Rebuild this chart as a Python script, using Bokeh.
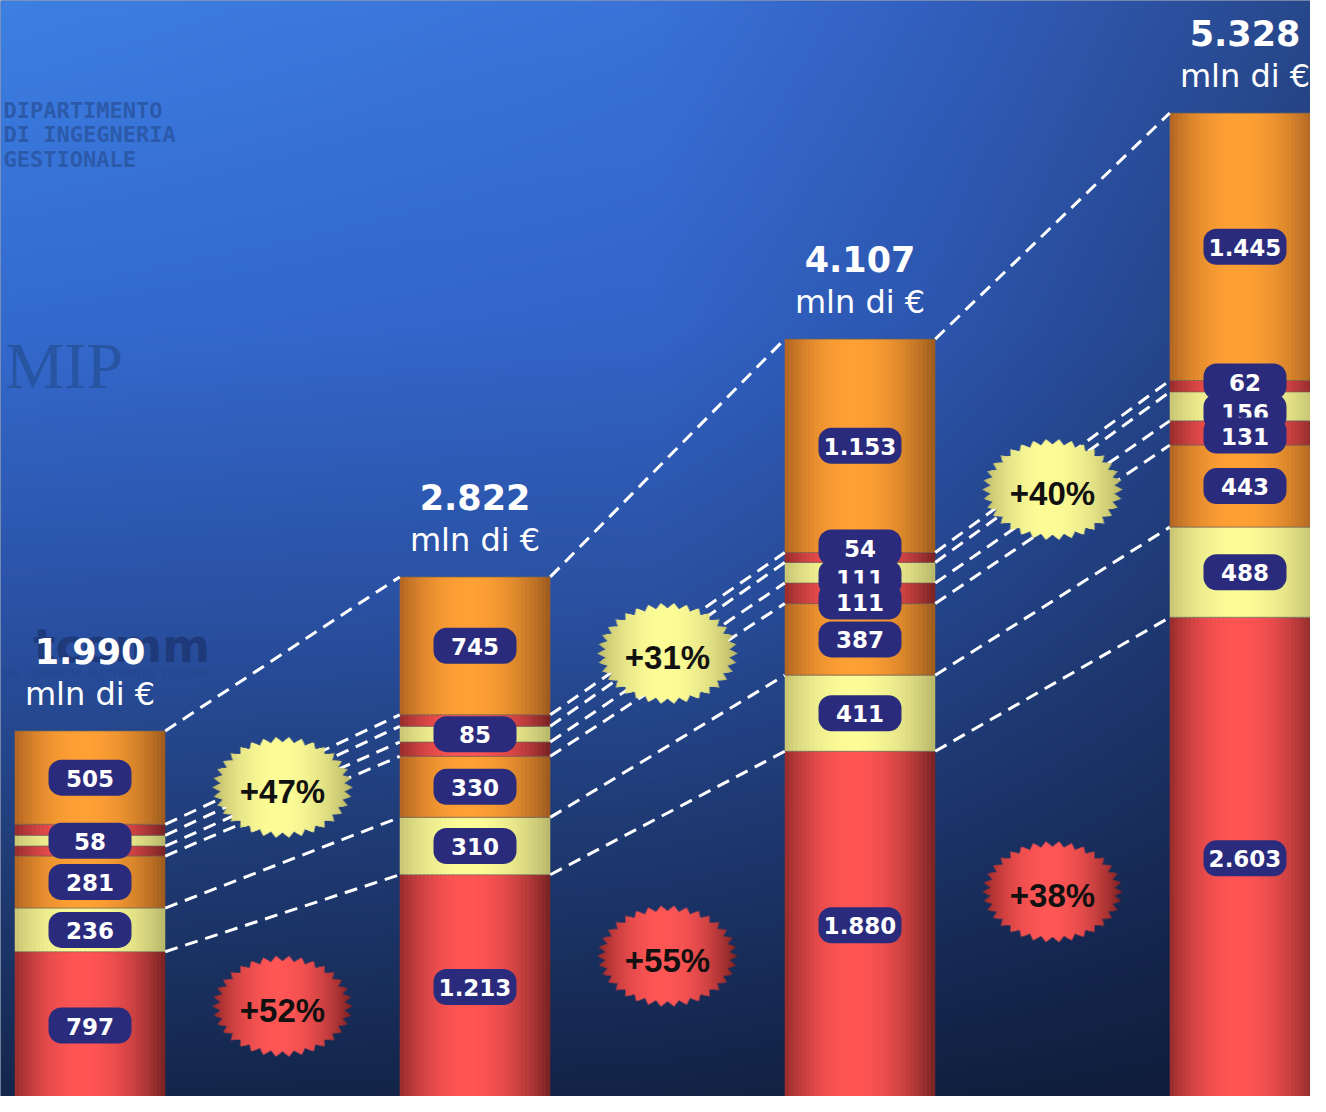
import numpy as np
from bokeh.plotting import figure
from bokeh.models import Range1d
from bokeh.core.properties import value
from bokeh.embed import file_html
from bokeh.resources import INLINE

# ---------------- data (mln di €) ----------------
bar_totals = [1990, 2822, 4107, 5328]
red_main = [797, 1213, 1880, 2603]
yellow_main = [236, 310, 411, 488]
orange_mid = [281, 330, 387, 443]
red_thin_low = [54, 77, 111, 131]
yellow_thin = [58, 85, 111, 156]
red_thin_high = [59, 62, 54, 62]
orange_top = [505, 745, 1153, 1445]
show_red_thin_label = [False, False, True, True]
growth_red = ["+52%", "+55%", "+38%"]
growth_rest = ["+47%", "+31%", "+40%"]
unit_label = "mln di €"

segments = [red_main, yellow_main, orange_mid, red_thin_low, yellow_thin, red_thin_high, orange_top]
seg_family = ["red", "yellow", "orange", "red", "yellow", "red", "orange"]

# ---------------- geometry / styles ----------------
W, H = 1310, 1096
PX_PER_BAR = 385.0
X0 = -89.5 / PX_PER_BAR
X1 = X0 + W / PX_PER_BAR
Y0, Y1 = 15.0, 5936.0
BAR_W = 0.391
PILL = "#2b2b7d"
FAMILY = {
    "red": ((150, 44, 44), (255, 84, 84), (118, 34, 34)),
    "orange": ((176, 100, 34), (255, 160, 52), (156, 90, 30)),
    "yellow": ((200, 196, 116), (252, 252, 152), (184, 182, 106)),
}
BURST_FAMILY = {
    "red": ((150, 40, 40), (255, 86, 86), (122, 32, 32)),
    "yellow": ((190, 186, 106), (253, 253, 152), (184, 180, 102)),
}

dxp = (X1 - X0) / W   # data per px
dyp = (Y1 - Y0) / H


def px2x(X):
    return X0 + X * dxp


def px2y(Y):
    return Y1 - Y * dyp


def hexc(rgb):
    return "#%02x%02x%02x" % tuple(int(round(c)) for c in rgb)


def shade_rgb(fams, fam, t, peak=0.45):
    el, c, er = [np.array(a, float) for a in fams[fam]]
    t = np.asarray(t, float)
    uu = np.where(t < peak, (peak - t) / peak, (t - peak) / (1 - peak))
    m = (1 - uu ** 2)[..., None]
    e = np.where((t < peak)[..., None], el, er)
    return e + (c - e) * m


p = figure(width=W, height=H, x_range=Range1d(X0, X1), y_range=Range1d(Y0, Y1),
           output_backend="svg", toolbar_location=None, min_border=0,
           x_axis_location=None, y_axis_location=None)
p.grid.visible = False
p.outline_line_color = None
p.background_fill_color = "#1c3468"
p.border_fill_color = "#1c3468"

# ---------------- background gradient ----------------
bw, bh = 655, 548
u_ctrl = [0.0, 0.5, 0.72, 1.0]
v_ctrl = [0.0, 0.3, 0.55, 0.75, 1.0]
ctrl = np.array([
    [(61, 127, 227), (58, 114, 216), (50, 95, 190), (40, 72, 140)],
    [(52, 106, 206), (50, 100, 200), (44, 85, 172), (34, 60, 120)],
    [(42, 82, 166), (42, 80, 160), (36, 68, 138), (28, 50, 100)],
    [(34, 64, 126), (31, 58, 116), (28, 52, 105), (22, 40, 80)],
    [(20, 38, 75), (19, 35, 70), (17, 31, 63), (15, 27, 56)],
], float)
uu = (np.arange(bw) + 0.5) / bw
vv = (np.arange(bh) + 0.5) / bh
rows = np.zeros((len(v_ctrl), bw, 3))
for a in range(len(v_ctrl)):
    for ch in range(3):
        rows[a, :, ch] = np.interp(uu, u_ctrl, ctrl[a, :, ch])
bg = np.zeros((bh, bw, 3))
for ch in range(3):
    for col in range(bw):
        bg[:, col, ch] = np.interp(vv, v_ctrl, rows[:, col, ch])
bg_rgba = np.zeros((bh, bw, 4), np.uint8)
bg_rgba[..., :3] = np.clip(bg, 0, 255).astype(np.uint8)
bg_rgba[..., 3] = 255
bg_img = np.ascontiguousarray(np.flipud(bg_rgba)).view(np.uint32).reshape(bh, bw)
p.image_rgba(image=[bg_img], x=X0, y=Y0, dw=X1 - X0, dh=Y1 - Y0)


# ---------------- watermark logos (text) ----------------
def mid_from_baseline(yb, size):
    return px2y(yb - 0.346 * size)


for txt, yb in [("DIPARTIMENTO", 118), ("DI INGEGNERIA", 142), ("GESTIONALE", 167)]:
    p.text(x=[px2x(3)], y=[mid_from_baseline(yb, 22)], text=[txt], text_color="#2c5aaa",
           text_font=value("DejaVu Sans Mono"), text_font_style="bold",
           text_font_size="22px", text_align="left", text_baseline="middle")
p.text(x=[px2x(5)], y=[mid_from_baseline(388, 66)], text=["MIP"], text_color="#2855a2",
       text_font=value("Liberation Serif"), text_font_size="66px",
       text_align="left", text_baseline="middle")
p.text(x=[px2x(33)], y=[mid_from_baseline(661, 46)], text=["tcomm"], text_color="#1e3a7a",
       text_font=value("DejaVu Sans"), text_font_style="bold", text_font_size="46px",
       text_align="left", text_baseline="middle")
p.text(x=[px2x(3)], y=[mid_from_baseline(676, 10)], text=["DEL COMMERCIO ELETTRONICO ITALIANO"],
       text_color="#24468c", text_font=value("DejaVu Sans Mono"), text_font_size="10px",
       text_align="left", text_baseline="middle")

# ---------------- stacked bars with shading ----------------
vals = np.array(segments, dtype=float).T  # (bars, segments)
tops = np.cumsum(vals, axis=1)
bottoms = tops - vals
xs = np.arange(len(bar_totals), dtype=float)
nb, ns = vals.shape

N = 36
L, R, B, T, C = [], [], [], [], []
for i in range(nb):
    for j in range(ns):
        for k in range(N):
            left = xs[i] - BAR_W / 2 + k * BAR_W / N
            right = left + BAR_W / N * (1.6 if k < N - 1 else 1.0)
            L.append(left)
            R.append(right)
            B.append(bottoms[i, j])
            T.append(tops[i, j])
            C.append(hexc(shade_rgb(FAMILY, seg_family[j], (k + 0.5) / N)))
p.quad(left=L, right=R, bottom=B, top=T, fill_color=C, line_color=None)

# segment boundaries
sx0, sx1, sy = [], [], []
for i in range(nb):
    for j in range(ns):
        sx0.append(xs[i] - BAR_W / 2)
        sx1.append(xs[i] + BAR_W / 2)
        sy.append(tops[i, j])
p.segment(x0=sx0, y0=sy, x1=sx1, y1=sy, line_color="#6b6058", line_alpha=0.6, line_width=1.2)

# ---------------- dashed connectors ----------------
cx0, cy0, cx1, cy1 = [], [], [], []
for i in range(nb - 1):
    for j in range(ns):
        cx0.append(xs[i] + BAR_W / 2)
        cy0.append(tops[i, j])
        cx1.append(xs[i + 1] - BAR_W / 2)
        cy1.append(tops[i + 1, j])
p.segment(x0=cx0, y0=cy0, x1=cx1, y1=cy1, line_color="white", line_width=3, line_dash="13 8")


# ---------------- growth bursts ----------------
def burst_rgba(fam, wp, hp, n_spikes=34, inner=0.89):
    yy, xx = np.mgrid[0:hp, 0:wp].astype(float)
    ex = (xx + 0.5 - wp / 2) / (wp / 2)
    ey = (yy + 0.5 - hp / 2) / (hp / 2)
    rho = np.hypot(ex, ey)
    ang = np.arctan2(ey, ex)
    ph = (ang / (2 * np.pi) * n_spikes) % 1.0
    tri = np.abs(2 * ph - 1)
    bound = inner + (1 - inner) * tri
    alpha = np.clip((bound - rho) * (wp / 2) + 0.5, 0, 1)
    rgb = shade_rgb(BURST_FAMILY, fam, (xx + 0.5) / wp, peak=0.47)
    out = np.zeros((hp, wp, 4), np.uint8)
    out[..., :3] = np.clip(rgb, 0, 255).astype(np.uint8)
    out[..., 3] = (alpha * 255).astype(np.uint8)
    return np.ascontiguousarray(out).view(np.uint32).reshape(hp, wp)


BWP, BHP = 140, 101
red_centers = (bottoms[:, 0] + tops[:, 0]) / 2
yt_centers = (bottoms[:, 4] + tops[:, 4]) / 2
bx, by, bimg, btxt = [], [], [], []
for i in range(nb - 1):
    mx = (xs[i] + xs[i + 1]) / 2
    for fam, cy, lab in [("yellow", (yt_centers[i] + yt_centers[i + 1]) / 2, growth_rest[i]),
                         ("red", (red_centers[i] + red_centers[i + 1]) / 2, growth_red[i])]:
        bx.append(mx)
        by.append(cy)
        bimg.append(burst_rgba(fam, BWP, BHP))
        btxt.append(lab)
p.image_rgba(image=bimg, x=[v - BWP * dxp / 2 for v in bx], y=[v - BHP * dyp / 2 for v in by],
             dw=BWP * dxp, dh=BHP * dyp)
p.text(x=bx, y=[v - 4 * dyp for v in by], text=btxt, text_color="#111111",
       text_font=value("Liberation Sans"), text_font_style="bold", text_font_size="33px",
       text_align="center", text_baseline="middle")


# ---------------- totals above bars ----------------
def fmt(v):
    return f"{int(v):,}".replace(",", ".")


p.text(x=list(xs), y=[t + 80 * dyp for t in bar_totals], text=[fmt(t) for t in bar_totals],
       text_color="white", text_font=value("DejaVu Sans"), text_font_style="bold",
       text_font_size="35px", text_align="center", text_baseline="middle")
p.text(x=list(xs), y=[t + 37 * dyp for t in bar_totals], text=[unit_label] * nb,
       text_color="white", text_font=value("DejaVu Sans"), text_font_size="32px",
       text_align="center", text_baseline="middle")

# ---------------- value pills ----------------
labels = []  # (bar, seg, y)
for i in range(nb):
    items = []
    for j in range(ns):
        if j in (3, 5) and not show_red_thin_label[i]:
            continue
        items.append([j, (bottoms[i, j] + tops[i, j]) / 2])
    items.sort(key=lambda a: a[1])
    gap = 27 * dyp
    for _ in range(60):
        for a in range(len(items) - 1):
            d = items[a + 1][1] - items[a][1]
            if d < gap:
                sh = (gap - d) / 2
                items[a][1] -= sh
                items[a + 1][1] += sh
    for a, (j, y) in enumerate(items):
        # a label squeezed between two neighbours sits a little low, partly hidden
        if 0 < a < len(items) - 1 and (items[a + 1][1] - items[a - 1][1]) < 2.2 * gap:
            y -= 3.5 * dyp
        labels.append((i, j, y))


def draw_pills(group):
    if not group:
        return
    gx = [xs[i] for i, j, y in group]
    gy = [y for i, j, y in group]
    gt = [fmt(vals[i, j]) for i, j, y in group]
    p.rect(x=gx, y=gy, width=57, height=10, width_units="screen", height_units="screen",
           fill_color=PILL, line_color=PILL, line_width=26, line_join="round")
    p.text(x=gx, y=[v - 0.5 * dyp for v in gy], text=gt, text_color="white",
           text_font=value("DejaVu Sans"), text_font_style="bold", text_font_size="23px",
           text_align="center", text_baseline="middle")


draw_pills([l for l in labels if l[1] == 4])
draw_pills([l for l in labels if l[1] != 4])

open("out.html", "w").write(file_html(p, INLINE))
